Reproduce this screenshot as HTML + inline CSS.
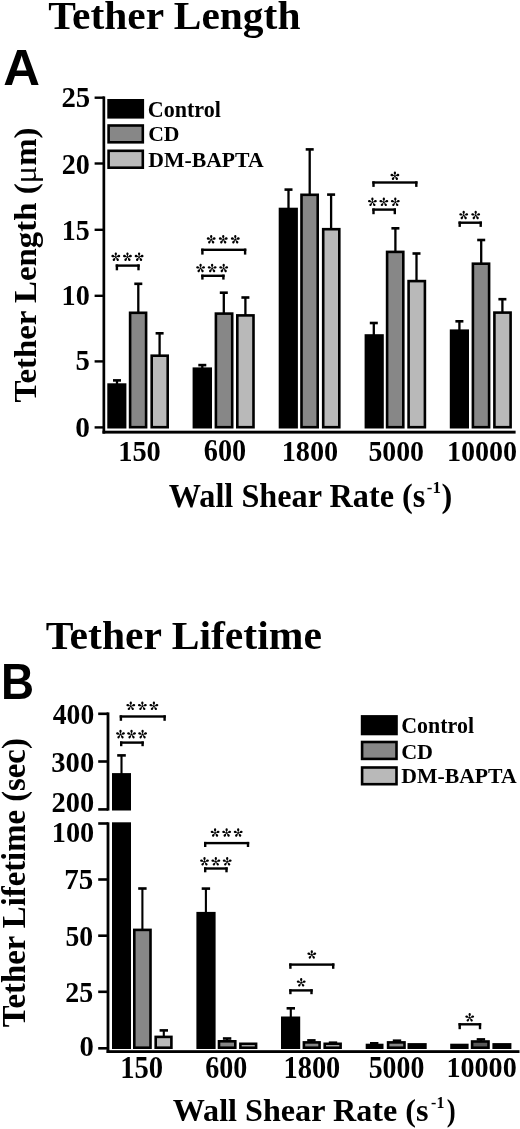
<!DOCTYPE html>
<html><head><meta charset="utf-8"><title>Tether Length and Tether Lifetime</title>
<style>html,body{margin:0;padding:0;background:#fff;overflow:hidden;}svg{display:block;will-change:transform;}</style></head>
<body><svg width="520" height="1129" viewBox="0 0 520 1129">
<rect width="520" height="1129" fill="#fff"/>
<g transform="matrix(1.0372,0.0000,0.0000,0.9784,48.1628,28.8946)"><text x="0" y="0" font-family="&quot;Liberation Serif&quot;, serif" font-size="40" font-weight="bold">Tether Length</text></g>
<g transform="matrix(1.0594,0.0000,0.0000,1.0333,3.2406,85.0000)"><text x="0" y="0" font-family="&quot;Liberation Sans&quot;, sans-serif" font-size="48" font-weight="bold">A</text></g>
<g transform="matrix(0.0000,-1.0271,1.0138,0.0000,36.4034,402.4271)"><text x="0" y="0" font-family="&quot;Liberation Serif&quot;, serif" font-size="32" font-weight="bold">Tether Length (<tspan font-weight="normal">μ</tspan>m)</text></g>
<g transform="matrix(1.0271,0.0000,0.0000,1.0467,147.7729,116.5000)"><text x="0" y="0" font-family="&quot;Liberation Serif&quot;, serif" font-size="21.5" font-weight="bold">Control</text></g>
<g transform="matrix(1.0103,0.0000,0.0000,1.0214,148.1897,141.2000)"><text x="0" y="0" font-family="&quot;Liberation Serif&quot;, serif" font-size="21.5" font-weight="bold">CD</text></g>
<g transform="matrix(1.0115,0.0000,0.0000,1.0071,148.1885,166.5000)"><text x="0" y="0" font-family="&quot;Liberation Serif&quot;, serif" font-size="21.5" font-weight="bold">DM-BAPTA</text></g>
<g transform="matrix(1.0087,0.0000,0.0000,1.0679,168.8000,506.8929)"><text x="0" y="0" font-family="&quot;Liberation Serif&quot;, serif" font-size="32" font-weight="bold">Wall Shear Rate (s</text></g>
<g transform="matrix(0.9385,0.0000,0.0000,0.9615,426.8615,492.9000)"><text x="0" y="0" font-family="&quot;Liberation Serif&quot;, serif" font-size="18" font-weight="bold">-1</text></g>
<g transform="matrix(1.0125,0.0000,0.0000,1.0536,441.4875,506.9786)"><text x="0" y="0" font-family="&quot;Liberation Serif&quot;, serif" font-size="32" font-weight="bold">)</text></g>
<g transform="matrix(1.0269,0.0000,0.0000,1.0722,61.4731,106.8000)"><text x="0" y="0" font-family="&quot;Liberation Serif&quot;, serif" font-size="28" font-weight="bold">25</text></g>
<g transform="matrix(1.0038,0.0000,0.0000,1.0389,61.6962,173.5000)"><text x="0" y="0" font-family="&quot;Liberation Serif&quot;, serif" font-size="28" font-weight="bold">20</text></g>
<g transform="matrix(1.0000,0.0000,0.0000,1.0667,61.8000,240.0000)"><text x="0" y="0" font-family="&quot;Liberation Serif&quot;, serif" font-size="28" font-weight="bold">15</text></g>
<g transform="matrix(1.0080,0.0000,0.0000,1.0833,61.5840,305.0000)"><text x="0" y="0" font-family="&quot;Liberation Serif&quot;, serif" font-size="28" font-weight="bold">10</text></g>
<g transform="matrix(1.0250,0.0000,0.0000,1.0333,75.4750,370.4000)"><text x="0" y="0" font-family="&quot;Liberation Serif&quot;, serif" font-size="28" font-weight="bold">5</text></g>
<g transform="matrix(1.0500,0.0000,0.0000,1.0889,75.1500,436.5000)"><text x="0" y="0" font-family="&quot;Liberation Serif&quot;, serif" font-size="28" font-weight="bold">0</text></g>
<g transform="matrix(1.0154,0.0000,0.0000,1.0722,118.1692,460.6000)"><text x="0" y="0" font-family="&quot;Liberation Serif&quot;, serif" font-size="28" font-weight="bold">150</text></g>
<g transform="matrix(1.0100,0.0000,0.0000,1.1000,203.7900,460.6000)"><text x="0" y="0" font-family="&quot;Liberation Serif&quot;, serif" font-size="28" font-weight="bold">600</text></g>
<g transform="matrix(1.0094,0.0000,0.0000,1.0833,281.6811,460.6000)"><text x="0" y="0" font-family="&quot;Liberation Serif&quot;, serif" font-size="28" font-weight="bold">1800</text></g>
<g transform="matrix(0.9926,0.0000,0.0000,1.0833,368.4074,460.6000)"><text x="0" y="0" font-family="&quot;Liberation Serif&quot;, serif" font-size="28" font-weight="bold">5000</text></g>
<g transform="matrix(1.0045,0.0000,0.0000,1.0778,446.8910,460.5000)"><text x="0" y="0" font-family="&quot;Liberation Serif&quot;, serif" font-size="28" font-weight="bold">10000</text></g>
<rect x="102.50" y="96.40" width="2.70" height="337.20" fill="#000"/>
<rect x="102.50" y="430.70" width="413.10" height="2.90" fill="#000"/>
<rect x="94.60" y="96.50" width="9.40" height="2.40" fill="#000"/>
<rect x="94.60" y="162.30" width="9.40" height="2.40" fill="#000"/>
<rect x="94.60" y="228.60" width="9.40" height="2.40" fill="#000"/>
<rect x="94.60" y="294.60" width="9.40" height="2.40" fill="#000"/>
<rect x="94.60" y="360.20" width="9.40" height="2.40" fill="#000"/>
<rect x="94.60" y="426.20" width="9.40" height="2.40" fill="#000"/>
<rect x="115.85" y="380.40" width="2.30" height="3.90" fill="#000"/>
<rect x="113.00" y="379.10" width="8.00" height="2.60" fill="#000"/>
<rect x="108.60" y="384.60" width="16.50" height="42.60" fill="#000" stroke="#000" stroke-width="2.6"/>
<rect x="137.15" y="283.80" width="2.30" height="28.70" fill="#000"/>
<rect x="134.30" y="282.50" width="8.00" height="2.60" fill="#000"/>
<rect x="130.10" y="312.80" width="16.00" height="114.40" fill="#878787" stroke="#000" stroke-width="2.6"/>
<rect x="158.45" y="333.30" width="2.30" height="22.10" fill="#000"/>
<rect x="155.60" y="332.00" width="8.00" height="2.60" fill="#000"/>
<rect x="151.70" y="355.70" width="16.00" height="71.50" fill="#b9b9b9" stroke="#000" stroke-width="2.6"/>
<rect x="201.15" y="365.10" width="2.30" height="3.30" fill="#000"/>
<rect x="198.30" y="363.80" width="8.00" height="2.60" fill="#000"/>
<rect x="193.90" y="368.70" width="16.80" height="58.50" fill="#000" stroke="#000" stroke-width="2.6"/>
<rect x="222.65" y="292.70" width="2.30" height="20.60" fill="#000"/>
<rect x="219.80" y="291.40" width="8.00" height="2.60" fill="#000"/>
<rect x="215.90" y="313.60" width="16.30" height="113.60" fill="#878787" stroke="#000" stroke-width="2.6"/>
<rect x="244.25" y="297.50" width="2.30" height="17.60" fill="#000"/>
<rect x="241.40" y="296.20" width="8.00" height="2.60" fill="#000"/>
<rect x="237.30" y="315.40" width="16.20" height="111.80" fill="#b9b9b9" stroke="#000" stroke-width="2.6"/>
<rect x="287.35" y="189.60" width="2.30" height="19.10" fill="#000"/>
<rect x="284.50" y="188.30" width="8.00" height="2.60" fill="#000"/>
<rect x="280.00" y="209.00" width="16.60" height="218.20" fill="#000" stroke="#000" stroke-width="2.6"/>
<rect x="308.55" y="149.40" width="2.30" height="45.10" fill="#000"/>
<rect x="305.70" y="148.10" width="8.00" height="2.60" fill="#000"/>
<rect x="301.50" y="194.80" width="16.20" height="232.40" fill="#878787" stroke="#000" stroke-width="2.6"/>
<rect x="329.95" y="194.60" width="2.30" height="34.30" fill="#000"/>
<rect x="327.10" y="193.30" width="8.00" height="2.60" fill="#000"/>
<rect x="323.20" y="229.20" width="16.10" height="198.00" fill="#b9b9b9" stroke="#000" stroke-width="2.6"/>
<rect x="372.65" y="323.00" width="2.30" height="12.20" fill="#000"/>
<rect x="369.80" y="321.70" width="8.00" height="2.60" fill="#000"/>
<rect x="365.90" y="335.50" width="16.60" height="91.70" fill="#000" stroke="#000" stroke-width="2.6"/>
<rect x="394.25" y="228.30" width="2.30" height="23.30" fill="#000"/>
<rect x="391.40" y="227.00" width="8.00" height="2.60" fill="#000"/>
<rect x="387.10" y="251.90" width="16.20" height="175.30" fill="#878787" stroke="#000" stroke-width="2.6"/>
<rect x="415.35" y="253.50" width="2.30" height="27.30" fill="#000"/>
<rect x="412.50" y="252.20" width="8.00" height="2.60" fill="#000"/>
<rect x="408.60" y="281.10" width="16.30" height="146.10" fill="#b9b9b9" stroke="#000" stroke-width="2.6"/>
<rect x="458.25" y="321.30" width="2.30" height="9.10" fill="#000"/>
<rect x="455.40" y="320.00" width="8.00" height="2.60" fill="#000"/>
<rect x="451.10" y="330.70" width="16.60" height="96.50" fill="#000" stroke="#000" stroke-width="2.6"/>
<rect x="480.05" y="240.00" width="2.30" height="23.40" fill="#000"/>
<rect x="477.20" y="238.70" width="8.00" height="2.60" fill="#000"/>
<rect x="472.90" y="263.70" width="16.20" height="163.50" fill="#878787" stroke="#000" stroke-width="2.6"/>
<rect x="501.25" y="299.20" width="2.30" height="13.10" fill="#000"/>
<rect x="498.40" y="297.90" width="8.00" height="2.60" fill="#000"/>
<rect x="494.40" y="312.60" width="16.20" height="114.60" fill="#b9b9b9" stroke="#000" stroke-width="2.6"/>
<rect x="115.70" y="264.40" width="24.00" height="2.40" fill="#000"/>
<rect x="115.70" y="264.40" width="2.40" height="5.90" fill="#000"/>
<rect x="137.30" y="264.40" width="2.40" height="5.90" fill="#000"/>
<g transform="translate(115.80,257.05)" fill="#000"><g transform="rotate(0)"><path d="M0,0 L-0.5,-1.6 C-1.45,-2.5 -1.4,-4.60 0,-4.60 C1.4,-4.60 1.45,-2.5 0.5,-1.6 Z"/></g><g transform="rotate(72)"><path d="M0,0 L-0.5,-1.6 C-1.45,-2.5 -1.4,-4.60 0,-4.60 C1.4,-4.60 1.45,-2.5 0.5,-1.6 Z"/></g><g transform="rotate(144)"><path d="M0,0 L-0.5,-1.6 C-1.45,-2.5 -1.4,-4.60 0,-4.60 C1.4,-4.60 1.45,-2.5 0.5,-1.6 Z"/></g><g transform="rotate(216)"><path d="M0,0 L-0.5,-1.6 C-1.45,-2.5 -1.4,-4.60 0,-4.60 C1.4,-4.60 1.45,-2.5 0.5,-1.6 Z"/></g><g transform="rotate(288)"><path d="M0,0 L-0.5,-1.6 C-1.45,-2.5 -1.4,-4.60 0,-4.60 C1.4,-4.60 1.45,-2.5 0.5,-1.6 Z"/></g><circle r="0.9"/></g>
<g transform="translate(127.45,257.05)" fill="#000"><g transform="rotate(0)"><path d="M0,0 L-0.5,-1.6 C-1.45,-2.5 -1.4,-4.60 0,-4.60 C1.4,-4.60 1.45,-2.5 0.5,-1.6 Z"/></g><g transform="rotate(72)"><path d="M0,0 L-0.5,-1.6 C-1.45,-2.5 -1.4,-4.60 0,-4.60 C1.4,-4.60 1.45,-2.5 0.5,-1.6 Z"/></g><g transform="rotate(144)"><path d="M0,0 L-0.5,-1.6 C-1.45,-2.5 -1.4,-4.60 0,-4.60 C1.4,-4.60 1.45,-2.5 0.5,-1.6 Z"/></g><g transform="rotate(216)"><path d="M0,0 L-0.5,-1.6 C-1.45,-2.5 -1.4,-4.60 0,-4.60 C1.4,-4.60 1.45,-2.5 0.5,-1.6 Z"/></g><g transform="rotate(288)"><path d="M0,0 L-0.5,-1.6 C-1.45,-2.5 -1.4,-4.60 0,-4.60 C1.4,-4.60 1.45,-2.5 0.5,-1.6 Z"/></g><circle r="0.9"/></g>
<g transform="translate(139.10,257.05)" fill="#000"><g transform="rotate(0)"><path d="M0,0 L-0.5,-1.6 C-1.45,-2.5 -1.4,-4.60 0,-4.60 C1.4,-4.60 1.45,-2.5 0.5,-1.6 Z"/></g><g transform="rotate(72)"><path d="M0,0 L-0.5,-1.6 C-1.45,-2.5 -1.4,-4.60 0,-4.60 C1.4,-4.60 1.45,-2.5 0.5,-1.6 Z"/></g><g transform="rotate(144)"><path d="M0,0 L-0.5,-1.6 C-1.45,-2.5 -1.4,-4.60 0,-4.60 C1.4,-4.60 1.45,-2.5 0.5,-1.6 Z"/></g><g transform="rotate(216)"><path d="M0,0 L-0.5,-1.6 C-1.45,-2.5 -1.4,-4.60 0,-4.60 C1.4,-4.60 1.45,-2.5 0.5,-1.6 Z"/></g><g transform="rotate(288)"><path d="M0,0 L-0.5,-1.6 C-1.45,-2.5 -1.4,-4.60 0,-4.60 C1.4,-4.60 1.45,-2.5 0.5,-1.6 Z"/></g><circle r="0.9"/></g>
<rect x="201.20" y="248.60" width="45.10" height="2.40" fill="#000"/>
<rect x="201.20" y="248.60" width="2.40" height="6.00" fill="#000"/>
<rect x="243.90" y="248.60" width="2.40" height="6.00" fill="#000"/>
<g transform="translate(211.20,239.55)" fill="#000"><g transform="rotate(0)"><path d="M0,0 L-0.5,-1.6 C-1.45,-2.5 -1.4,-4.60 0,-4.60 C1.4,-4.60 1.45,-2.5 0.5,-1.6 Z"/></g><g transform="rotate(72)"><path d="M0,0 L-0.5,-1.6 C-1.45,-2.5 -1.4,-4.60 0,-4.60 C1.4,-4.60 1.45,-2.5 0.5,-1.6 Z"/></g><g transform="rotate(144)"><path d="M0,0 L-0.5,-1.6 C-1.45,-2.5 -1.4,-4.60 0,-4.60 C1.4,-4.60 1.45,-2.5 0.5,-1.6 Z"/></g><g transform="rotate(216)"><path d="M0,0 L-0.5,-1.6 C-1.45,-2.5 -1.4,-4.60 0,-4.60 C1.4,-4.60 1.45,-2.5 0.5,-1.6 Z"/></g><g transform="rotate(288)"><path d="M0,0 L-0.5,-1.6 C-1.45,-2.5 -1.4,-4.60 0,-4.60 C1.4,-4.60 1.45,-2.5 0.5,-1.6 Z"/></g><circle r="0.9"/></g>
<g transform="translate(223.25,239.55)" fill="#000"><g transform="rotate(0)"><path d="M0,0 L-0.5,-1.6 C-1.45,-2.5 -1.4,-4.60 0,-4.60 C1.4,-4.60 1.45,-2.5 0.5,-1.6 Z"/></g><g transform="rotate(72)"><path d="M0,0 L-0.5,-1.6 C-1.45,-2.5 -1.4,-4.60 0,-4.60 C1.4,-4.60 1.45,-2.5 0.5,-1.6 Z"/></g><g transform="rotate(144)"><path d="M0,0 L-0.5,-1.6 C-1.45,-2.5 -1.4,-4.60 0,-4.60 C1.4,-4.60 1.45,-2.5 0.5,-1.6 Z"/></g><g transform="rotate(216)"><path d="M0,0 L-0.5,-1.6 C-1.45,-2.5 -1.4,-4.60 0,-4.60 C1.4,-4.60 1.45,-2.5 0.5,-1.6 Z"/></g><g transform="rotate(288)"><path d="M0,0 L-0.5,-1.6 C-1.45,-2.5 -1.4,-4.60 0,-4.60 C1.4,-4.60 1.45,-2.5 0.5,-1.6 Z"/></g><circle r="0.9"/></g>
<g transform="translate(235.30,239.55)" fill="#000"><g transform="rotate(0)"><path d="M0,0 L-0.5,-1.6 C-1.45,-2.5 -1.4,-4.60 0,-4.60 C1.4,-4.60 1.45,-2.5 0.5,-1.6 Z"/></g><g transform="rotate(72)"><path d="M0,0 L-0.5,-1.6 C-1.45,-2.5 -1.4,-4.60 0,-4.60 C1.4,-4.60 1.45,-2.5 0.5,-1.6 Z"/></g><g transform="rotate(144)"><path d="M0,0 L-0.5,-1.6 C-1.45,-2.5 -1.4,-4.60 0,-4.60 C1.4,-4.60 1.45,-2.5 0.5,-1.6 Z"/></g><g transform="rotate(216)"><path d="M0,0 L-0.5,-1.6 C-1.45,-2.5 -1.4,-4.60 0,-4.60 C1.4,-4.60 1.45,-2.5 0.5,-1.6 Z"/></g><g transform="rotate(288)"><path d="M0,0 L-0.5,-1.6 C-1.45,-2.5 -1.4,-4.60 0,-4.60 C1.4,-4.60 1.45,-2.5 0.5,-1.6 Z"/></g><circle r="0.9"/></g>
<rect x="201.20" y="274.60" width="23.40" height="2.40" fill="#000"/>
<rect x="201.20" y="274.60" width="2.40" height="5.00" fill="#000"/>
<rect x="222.20" y="274.60" width="2.40" height="5.00" fill="#000"/>
<g transform="translate(200.60,268.35)" fill="#000"><g transform="rotate(0)"><path d="M0,0 L-0.5,-1.6 C-1.45,-2.5 -1.4,-4.60 0,-4.60 C1.4,-4.60 1.45,-2.5 0.5,-1.6 Z"/></g><g transform="rotate(72)"><path d="M0,0 L-0.5,-1.6 C-1.45,-2.5 -1.4,-4.60 0,-4.60 C1.4,-4.60 1.45,-2.5 0.5,-1.6 Z"/></g><g transform="rotate(144)"><path d="M0,0 L-0.5,-1.6 C-1.45,-2.5 -1.4,-4.60 0,-4.60 C1.4,-4.60 1.45,-2.5 0.5,-1.6 Z"/></g><g transform="rotate(216)"><path d="M0,0 L-0.5,-1.6 C-1.45,-2.5 -1.4,-4.60 0,-4.60 C1.4,-4.60 1.45,-2.5 0.5,-1.6 Z"/></g><g transform="rotate(288)"><path d="M0,0 L-0.5,-1.6 C-1.45,-2.5 -1.4,-4.60 0,-4.60 C1.4,-4.60 1.45,-2.5 0.5,-1.6 Z"/></g><circle r="0.9"/></g>
<g transform="translate(212.15,268.35)" fill="#000"><g transform="rotate(0)"><path d="M0,0 L-0.5,-1.6 C-1.45,-2.5 -1.4,-4.60 0,-4.60 C1.4,-4.60 1.45,-2.5 0.5,-1.6 Z"/></g><g transform="rotate(72)"><path d="M0,0 L-0.5,-1.6 C-1.45,-2.5 -1.4,-4.60 0,-4.60 C1.4,-4.60 1.45,-2.5 0.5,-1.6 Z"/></g><g transform="rotate(144)"><path d="M0,0 L-0.5,-1.6 C-1.45,-2.5 -1.4,-4.60 0,-4.60 C1.4,-4.60 1.45,-2.5 0.5,-1.6 Z"/></g><g transform="rotate(216)"><path d="M0,0 L-0.5,-1.6 C-1.45,-2.5 -1.4,-4.60 0,-4.60 C1.4,-4.60 1.45,-2.5 0.5,-1.6 Z"/></g><g transform="rotate(288)"><path d="M0,0 L-0.5,-1.6 C-1.45,-2.5 -1.4,-4.60 0,-4.60 C1.4,-4.60 1.45,-2.5 0.5,-1.6 Z"/></g><circle r="0.9"/></g>
<g transform="translate(223.70,268.35)" fill="#000"><g transform="rotate(0)"><path d="M0,0 L-0.5,-1.6 C-1.45,-2.5 -1.4,-4.60 0,-4.60 C1.4,-4.60 1.45,-2.5 0.5,-1.6 Z"/></g><g transform="rotate(72)"><path d="M0,0 L-0.5,-1.6 C-1.45,-2.5 -1.4,-4.60 0,-4.60 C1.4,-4.60 1.45,-2.5 0.5,-1.6 Z"/></g><g transform="rotate(144)"><path d="M0,0 L-0.5,-1.6 C-1.45,-2.5 -1.4,-4.60 0,-4.60 C1.4,-4.60 1.45,-2.5 0.5,-1.6 Z"/></g><g transform="rotate(216)"><path d="M0,0 L-0.5,-1.6 C-1.45,-2.5 -1.4,-4.60 0,-4.60 C1.4,-4.60 1.45,-2.5 0.5,-1.6 Z"/></g><g transform="rotate(288)"><path d="M0,0 L-0.5,-1.6 C-1.45,-2.5 -1.4,-4.60 0,-4.60 C1.4,-4.60 1.45,-2.5 0.5,-1.6 Z"/></g><circle r="0.9"/></g>
<rect x="372.30" y="181.30" width="45.20" height="2.40" fill="#000"/>
<rect x="372.30" y="181.30" width="2.40" height="5.60" fill="#000"/>
<rect x="415.10" y="181.30" width="2.40" height="5.60" fill="#000"/>
<g transform="translate(394.90,176.05)" fill="#000"><g transform="rotate(0)"><path d="M0,0 L-0.5,-1.6 C-1.45,-2.5 -1.4,-4.60 0,-4.60 C1.4,-4.60 1.45,-2.5 0.5,-1.6 Z"/></g><g transform="rotate(72)"><path d="M0,0 L-0.5,-1.6 C-1.45,-2.5 -1.4,-4.60 0,-4.60 C1.4,-4.60 1.45,-2.5 0.5,-1.6 Z"/></g><g transform="rotate(144)"><path d="M0,0 L-0.5,-1.6 C-1.45,-2.5 -1.4,-4.60 0,-4.60 C1.4,-4.60 1.45,-2.5 0.5,-1.6 Z"/></g><g transform="rotate(216)"><path d="M0,0 L-0.5,-1.6 C-1.45,-2.5 -1.4,-4.60 0,-4.60 C1.4,-4.60 1.45,-2.5 0.5,-1.6 Z"/></g><g transform="rotate(288)"><path d="M0,0 L-0.5,-1.6 C-1.45,-2.5 -1.4,-4.60 0,-4.60 C1.4,-4.60 1.45,-2.5 0.5,-1.6 Z"/></g><circle r="0.9"/></g>
<rect x="372.30" y="208.40" width="23.70" height="2.40" fill="#000"/>
<rect x="372.30" y="208.40" width="2.40" height="5.80" fill="#000"/>
<rect x="393.60" y="208.40" width="2.40" height="5.80" fill="#000"/>
<g transform="translate(372.40,202.15)" fill="#000"><g transform="rotate(0)"><path d="M0,0 L-0.5,-1.6 C-1.45,-2.5 -1.4,-4.60 0,-4.60 C1.4,-4.60 1.45,-2.5 0.5,-1.6 Z"/></g><g transform="rotate(72)"><path d="M0,0 L-0.5,-1.6 C-1.45,-2.5 -1.4,-4.60 0,-4.60 C1.4,-4.60 1.45,-2.5 0.5,-1.6 Z"/></g><g transform="rotate(144)"><path d="M0,0 L-0.5,-1.6 C-1.45,-2.5 -1.4,-4.60 0,-4.60 C1.4,-4.60 1.45,-2.5 0.5,-1.6 Z"/></g><g transform="rotate(216)"><path d="M0,0 L-0.5,-1.6 C-1.45,-2.5 -1.4,-4.60 0,-4.60 C1.4,-4.60 1.45,-2.5 0.5,-1.6 Z"/></g><g transform="rotate(288)"><path d="M0,0 L-0.5,-1.6 C-1.45,-2.5 -1.4,-4.60 0,-4.60 C1.4,-4.60 1.45,-2.5 0.5,-1.6 Z"/></g><circle r="0.9"/></g>
<g transform="translate(383.85,202.15)" fill="#000"><g transform="rotate(0)"><path d="M0,0 L-0.5,-1.6 C-1.45,-2.5 -1.4,-4.60 0,-4.60 C1.4,-4.60 1.45,-2.5 0.5,-1.6 Z"/></g><g transform="rotate(72)"><path d="M0,0 L-0.5,-1.6 C-1.45,-2.5 -1.4,-4.60 0,-4.60 C1.4,-4.60 1.45,-2.5 0.5,-1.6 Z"/></g><g transform="rotate(144)"><path d="M0,0 L-0.5,-1.6 C-1.45,-2.5 -1.4,-4.60 0,-4.60 C1.4,-4.60 1.45,-2.5 0.5,-1.6 Z"/></g><g transform="rotate(216)"><path d="M0,0 L-0.5,-1.6 C-1.45,-2.5 -1.4,-4.60 0,-4.60 C1.4,-4.60 1.45,-2.5 0.5,-1.6 Z"/></g><g transform="rotate(288)"><path d="M0,0 L-0.5,-1.6 C-1.45,-2.5 -1.4,-4.60 0,-4.60 C1.4,-4.60 1.45,-2.5 0.5,-1.6 Z"/></g><circle r="0.9"/></g>
<g transform="translate(395.30,202.15)" fill="#000"><g transform="rotate(0)"><path d="M0,0 L-0.5,-1.6 C-1.45,-2.5 -1.4,-4.60 0,-4.60 C1.4,-4.60 1.45,-2.5 0.5,-1.6 Z"/></g><g transform="rotate(72)"><path d="M0,0 L-0.5,-1.6 C-1.45,-2.5 -1.4,-4.60 0,-4.60 C1.4,-4.60 1.45,-2.5 0.5,-1.6 Z"/></g><g transform="rotate(144)"><path d="M0,0 L-0.5,-1.6 C-1.45,-2.5 -1.4,-4.60 0,-4.60 C1.4,-4.60 1.45,-2.5 0.5,-1.6 Z"/></g><g transform="rotate(216)"><path d="M0,0 L-0.5,-1.6 C-1.45,-2.5 -1.4,-4.60 0,-4.60 C1.4,-4.60 1.45,-2.5 0.5,-1.6 Z"/></g><g transform="rotate(288)"><path d="M0,0 L-0.5,-1.6 C-1.45,-2.5 -1.4,-4.60 0,-4.60 C1.4,-4.60 1.45,-2.5 0.5,-1.6 Z"/></g><circle r="0.9"/></g>
<rect x="458.50" y="221.50" width="23.40" height="2.40" fill="#000"/>
<rect x="458.50" y="221.50" width="2.40" height="5.40" fill="#000"/>
<rect x="479.50" y="221.50" width="2.40" height="5.40" fill="#000"/>
<g transform="translate(463.70,215.35)" fill="#000"><g transform="rotate(0)"><path d="M0,0 L-0.5,-1.6 C-1.45,-2.5 -1.4,-4.60 0,-4.60 C1.4,-4.60 1.45,-2.5 0.5,-1.6 Z"/></g><g transform="rotate(72)"><path d="M0,0 L-0.5,-1.6 C-1.45,-2.5 -1.4,-4.60 0,-4.60 C1.4,-4.60 1.45,-2.5 0.5,-1.6 Z"/></g><g transform="rotate(144)"><path d="M0,0 L-0.5,-1.6 C-1.45,-2.5 -1.4,-4.60 0,-4.60 C1.4,-4.60 1.45,-2.5 0.5,-1.6 Z"/></g><g transform="rotate(216)"><path d="M0,0 L-0.5,-1.6 C-1.45,-2.5 -1.4,-4.60 0,-4.60 C1.4,-4.60 1.45,-2.5 0.5,-1.6 Z"/></g><g transform="rotate(288)"><path d="M0,0 L-0.5,-1.6 C-1.45,-2.5 -1.4,-4.60 0,-4.60 C1.4,-4.60 1.45,-2.5 0.5,-1.6 Z"/></g><circle r="0.9"/></g>
<g transform="translate(475.70,215.35)" fill="#000"><g transform="rotate(0)"><path d="M0,0 L-0.5,-1.6 C-1.45,-2.5 -1.4,-4.60 0,-4.60 C1.4,-4.60 1.45,-2.5 0.5,-1.6 Z"/></g><g transform="rotate(72)"><path d="M0,0 L-0.5,-1.6 C-1.45,-2.5 -1.4,-4.60 0,-4.60 C1.4,-4.60 1.45,-2.5 0.5,-1.6 Z"/></g><g transform="rotate(144)"><path d="M0,0 L-0.5,-1.6 C-1.45,-2.5 -1.4,-4.60 0,-4.60 C1.4,-4.60 1.45,-2.5 0.5,-1.6 Z"/></g><g transform="rotate(216)"><path d="M0,0 L-0.5,-1.6 C-1.45,-2.5 -1.4,-4.60 0,-4.60 C1.4,-4.60 1.45,-2.5 0.5,-1.6 Z"/></g><g transform="rotate(288)"><path d="M0,0 L-0.5,-1.6 C-1.45,-2.5 -1.4,-4.60 0,-4.60 C1.4,-4.60 1.45,-2.5 0.5,-1.6 Z"/></g><circle r="0.9"/></g>
<rect x="108.60" y="100.30" width="34.20" height="17.00" fill="#000" stroke="#000" stroke-width="2.6"/>
<rect x="108.60" y="125.50" width="34.20" height="16.80" fill="#878787" stroke="#000" stroke-width="2.6"/>
<rect x="108.60" y="150.80" width="34.20" height="16.90" fill="#b9b9b9" stroke="#000" stroke-width="2.6"/>
<g transform="matrix(1.0409,0.0000,0.0000,1.0179,45.6591,648.6000)"><text x="0" y="0" font-family="&quot;Liberation Serif&quot;, serif" font-size="40" font-weight="bold">Tether Lifetime</text></g>
<g transform="matrix(0.9533,0.0000,0.0000,1.0455,1.0400,698.7000)"><text x="0" y="0" font-family="&quot;Liberation Sans&quot;, sans-serif" font-size="48" font-weight="bold">B</text></g>
<g transform="matrix(0.0000,-1.0236,1.0357,0.0000,25.4857,1027.3236)"><text x="0" y="0" font-family="&quot;Liberation Serif&quot;, serif" font-size="32" font-weight="bold">Tether Lifetime (sec)</text></g>
<g transform="matrix(1.0200,0.0000,0.0000,1.0267,401.2800,733.2000)"><text x="0" y="0" font-family="&quot;Liberation Serif&quot;, serif" font-size="21.5" font-weight="bold">Control</text></g>
<g transform="matrix(1.0276,0.0000,0.0000,1.0000,401.1724,758.6000)"><text x="0" y="0" font-family="&quot;Liberation Serif&quot;, serif" font-size="21.5" font-weight="bold">CD</text></g>
<g transform="matrix(1.0115,0.0000,0.0000,0.9714,401.1885,783.3000)"><text x="0" y="0" font-family="&quot;Liberation Serif&quot;, serif" font-size="21.5" font-weight="bold">DM-BAPTA</text></g>
<g transform="matrix(1.0051,0.0000,0.0000,1.0071,172.7000,1120.6571)"><text x="0" y="0" font-family="&quot;Liberation Serif&quot;, serif" font-size="32" font-weight="bold">Wall Shear Rate (s</text></g>
<g transform="matrix(0.8846,0.0000,0.0000,0.8846,431.1154,1107.9000)"><text x="0" y="0" font-family="&quot;Liberation Serif&quot;, serif" font-size="18" font-weight="bold">-1</text></g>
<g transform="matrix(0.8375,0.0000,0.0000,0.9857,446.6625,1120.7857)"><text x="0" y="0" font-family="&quot;Liberation Serif&quot;, serif" font-size="32" font-weight="bold">)</text></g>
<g transform="matrix(0.9854,0.0000,0.0000,1.0556,52.8000,723.8000)"><text x="0" y="0" font-family="&quot;Liberation Serif&quot;, serif" font-size="28" font-weight="bold">400</text></g>
<g transform="matrix(1.0225,0.0000,0.0000,1.0722,51.2775,771.6000)"><text x="0" y="0" font-family="&quot;Liberation Serif&quot;, serif" font-size="28" font-weight="bold">300</text></g>
<g transform="matrix(1.0150,0.0000,0.0000,1.0722,51.5850,811.6000)"><text x="0" y="0" font-family="&quot;Liberation Serif&quot;, serif" font-size="28" font-weight="bold">200</text></g>
<g transform="matrix(1.0103,0.0000,0.0000,1.0722,51.7795,841.6000)"><text x="0" y="0" font-family="&quot;Liberation Serif&quot;, serif" font-size="28" font-weight="bold">100</text></g>
<g transform="matrix(1.0360,0.0000,0.0000,1.0278,64.2280,888.5000)"><text x="0" y="0" font-family="&quot;Liberation Serif&quot;, serif" font-size="28" font-weight="bold">75</text></g>
<g transform="matrix(0.9885,0.0000,0.0000,1.0722,65.5115,945.5000)"><text x="0" y="0" font-family="&quot;Liberation Serif&quot;, serif" font-size="28" font-weight="bold">50</text></g>
<g transform="matrix(0.9962,0.0000,0.0000,1.0444,65.3038,1001.6000)"><text x="0" y="0" font-family="&quot;Liberation Serif&quot;, serif" font-size="28" font-weight="bold">25</text></g>
<g transform="matrix(1.0250,0.0000,0.0000,1.0611,79.5750,1055.8000)"><text x="0" y="0" font-family="&quot;Liberation Serif&quot;, serif" font-size="28" font-weight="bold">0</text></g>
<g transform="matrix(1.0231,0.0000,0.0000,1.0944,120.1538,1078.2000)"><text x="0" y="0" font-family="&quot;Liberation Serif&quot;, serif" font-size="28" font-weight="bold">150</text></g>
<g transform="matrix(1.0025,0.0000,0.0000,1.1111,205.2975,1077.8000)"><text x="0" y="0" font-family="&quot;Liberation Serif&quot;, serif" font-size="28" font-weight="bold">600</text></g>
<g transform="matrix(1.0151,0.0000,0.0000,1.1000,283.4698,1077.9000)"><text x="0" y="0" font-family="&quot;Liberation Serif&quot;, serif" font-size="28" font-weight="bold">1800</text></g>
<g transform="matrix(0.9926,0.0000,0.0000,1.1222,368.7074,1078.3000)"><text x="0" y="0" font-family="&quot;Liberation Serif&quot;, serif" font-size="28" font-weight="bold">5000</text></g>
<g transform="matrix(1.0030,0.0000,0.0000,1.0778,446.4940,1077.3000)"><text x="0" y="0" font-family="&quot;Liberation Serif&quot;, serif" font-size="28" font-weight="bold">10000</text></g>
<rect x="106.60" y="712.40" width="2.80" height="98.20" fill="#000"/>
<rect x="106.60" y="822.30" width="2.80" height="230.70" fill="#000"/>
<rect x="106.60" y="1050.20" width="412.90" height="2.80" fill="#000"/>
<rect x="98.20" y="712.50" width="9.80" height="2.60" fill="#000"/>
<rect x="98.20" y="760.20" width="9.80" height="2.60" fill="#000"/>
<rect x="98.20" y="808.10" width="9.80" height="2.60" fill="#000"/>
<rect x="98.20" y="822.20" width="9.80" height="2.60" fill="#000"/>
<rect x="98.20" y="878.20" width="9.80" height="2.60" fill="#000"/>
<rect x="98.20" y="934.40" width="9.80" height="2.60" fill="#000"/>
<rect x="98.20" y="990.50" width="9.80" height="2.60" fill="#000"/>
<rect x="98.20" y="1047.00" width="9.80" height="2.60" fill="#000"/>
<rect x="120.45" y="755.40" width="2.10" height="18.60" fill="#000"/>
<rect x="117.20" y="754.10" width="8.60" height="2.60" fill="#000"/>
<rect x="112.00" y="773.10" width="19.00" height="37.40" fill="#000"/>
<rect x="112.00" y="822.30" width="19.00" height="226.70" fill="#000"/>
<rect x="141.35" y="888.50" width="2.10" height="41.10" fill="#000"/>
<rect x="138.20" y="887.20" width="8.40" height="2.60" fill="#000"/>
<rect x="134.30" y="929.90" width="16.20" height="117.80" fill="#878787" stroke="#000" stroke-width="2.6"/>
<rect x="162.75" y="1030.40" width="2.10" height="6.20" fill="#000"/>
<rect x="159.60" y="1029.10" width="8.40" height="2.60" fill="#000"/>
<rect x="155.70" y="1036.90" width="15.70" height="10.80" fill="#b9b9b9" stroke="#000" stroke-width="2.6"/>
<rect x="204.85" y="888.60" width="2.10" height="24.30" fill="#000"/>
<rect x="201.70" y="887.30" width="8.40" height="2.60" fill="#000"/>
<rect x="197.70" y="913.20" width="16.60" height="134.50" fill="#000" stroke="#000" stroke-width="2.6"/>
<rect x="226.05" y="1038.50" width="2.10" height="2.50" fill="#000"/>
<rect x="222.90" y="1037.20" width="8.40" height="2.60" fill="#000"/>
<rect x="219.00" y="1041.30" width="16.30" height="6.40" fill="#878787" stroke="#000" stroke-width="2.6"/>
<rect x="240.40" y="1043.80" width="15.70" height="3.90" fill="#b9b9b9" stroke="#000" stroke-width="2.6"/>
<rect x="289.75" y="1008.30" width="2.10" height="9.20" fill="#000"/>
<rect x="286.60" y="1007.00" width="8.40" height="2.60" fill="#000"/>
<rect x="282.30" y="1017.80" width="16.60" height="29.90" fill="#000" stroke="#000" stroke-width="2.6"/>
<rect x="310.35" y="1040.40" width="2.10" height="1.70" fill="#000"/>
<rect x="307.20" y="1039.10" width="8.40" height="2.60" fill="#000"/>
<rect x="303.90" y="1042.40" width="15.70" height="5.30" fill="#878787" stroke="#000" stroke-width="2.6"/>
<rect x="331.95" y="1042.70" width="2.10" height="0.80" fill="#000"/>
<rect x="328.80" y="1041.40" width="8.40" height="2.60" fill="#000"/>
<rect x="324.70" y="1043.80" width="15.90" height="3.90" fill="#b9b9b9" stroke="#000" stroke-width="2.6"/>
<rect x="373.15" y="1043.30" width="2.10" height="1.40" fill="#000"/>
<rect x="370.00" y="1042.00" width="8.40" height="2.60" fill="#000"/>
<rect x="367.00" y="1045.00" width="15.20" height="2.70" fill="#000" stroke="#000" stroke-width="2.6"/>
<rect x="395.95" y="1040.70" width="2.10" height="1.40" fill="#000"/>
<rect x="392.80" y="1039.40" width="8.40" height="2.60" fill="#000"/>
<rect x="388.10" y="1042.40" width="16.40" height="5.30" fill="#878787" stroke="#000" stroke-width="2.6"/>
<rect x="408.80" y="1044.40" width="16.60" height="3.30" fill="#000" stroke="#000" stroke-width="2.6"/>
<rect x="451.50" y="1045.00" width="15.80" height="2.70" fill="#000" stroke="#000" stroke-width="2.6"/>
<rect x="479.85" y="1039.40" width="2.10" height="1.80" fill="#000"/>
<rect x="476.70" y="1038.10" width="8.40" height="2.60" fill="#000"/>
<rect x="472.10" y="1041.50" width="16.40" height="6.20" fill="#5a5a5a" stroke="#000" stroke-width="2.6"/>
<rect x="493.70" y="1044.40" width="16.40" height="3.30" fill="#000" stroke="#000" stroke-width="2.6"/>
<rect x="119.70" y="715.30" width="46.10" height="2.40" fill="#000"/>
<rect x="119.70" y="715.30" width="2.40" height="5.50" fill="#000"/>
<rect x="163.40" y="715.30" width="2.40" height="5.50" fill="#000"/>
<g transform="translate(130.80,706.15)" fill="#000"><g transform="rotate(0)"><path d="M0,0 L-0.5,-1.6 C-1.45,-2.5 -1.4,-4.60 0,-4.60 C1.4,-4.60 1.45,-2.5 0.5,-1.6 Z"/></g><g transform="rotate(72)"><path d="M0,0 L-0.5,-1.6 C-1.45,-2.5 -1.4,-4.60 0,-4.60 C1.4,-4.60 1.45,-2.5 0.5,-1.6 Z"/></g><g transform="rotate(144)"><path d="M0,0 L-0.5,-1.6 C-1.45,-2.5 -1.4,-4.60 0,-4.60 C1.4,-4.60 1.45,-2.5 0.5,-1.6 Z"/></g><g transform="rotate(216)"><path d="M0,0 L-0.5,-1.6 C-1.45,-2.5 -1.4,-4.60 0,-4.60 C1.4,-4.60 1.45,-2.5 0.5,-1.6 Z"/></g><g transform="rotate(288)"><path d="M0,0 L-0.5,-1.6 C-1.45,-2.5 -1.4,-4.60 0,-4.60 C1.4,-4.60 1.45,-2.5 0.5,-1.6 Z"/></g><circle r="0.9"/></g>
<g transform="translate(142.35,706.15)" fill="#000"><g transform="rotate(0)"><path d="M0,0 L-0.5,-1.6 C-1.45,-2.5 -1.4,-4.60 0,-4.60 C1.4,-4.60 1.45,-2.5 0.5,-1.6 Z"/></g><g transform="rotate(72)"><path d="M0,0 L-0.5,-1.6 C-1.45,-2.5 -1.4,-4.60 0,-4.60 C1.4,-4.60 1.45,-2.5 0.5,-1.6 Z"/></g><g transform="rotate(144)"><path d="M0,0 L-0.5,-1.6 C-1.45,-2.5 -1.4,-4.60 0,-4.60 C1.4,-4.60 1.45,-2.5 0.5,-1.6 Z"/></g><g transform="rotate(216)"><path d="M0,0 L-0.5,-1.6 C-1.45,-2.5 -1.4,-4.60 0,-4.60 C1.4,-4.60 1.45,-2.5 0.5,-1.6 Z"/></g><g transform="rotate(288)"><path d="M0,0 L-0.5,-1.6 C-1.45,-2.5 -1.4,-4.60 0,-4.60 C1.4,-4.60 1.45,-2.5 0.5,-1.6 Z"/></g><circle r="0.9"/></g>
<g transform="translate(153.90,706.15)" fill="#000"><g transform="rotate(0)"><path d="M0,0 L-0.5,-1.6 C-1.45,-2.5 -1.4,-4.60 0,-4.60 C1.4,-4.60 1.45,-2.5 0.5,-1.6 Z"/></g><g transform="rotate(72)"><path d="M0,0 L-0.5,-1.6 C-1.45,-2.5 -1.4,-4.60 0,-4.60 C1.4,-4.60 1.45,-2.5 0.5,-1.6 Z"/></g><g transform="rotate(144)"><path d="M0,0 L-0.5,-1.6 C-1.45,-2.5 -1.4,-4.60 0,-4.60 C1.4,-4.60 1.45,-2.5 0.5,-1.6 Z"/></g><g transform="rotate(216)"><path d="M0,0 L-0.5,-1.6 C-1.45,-2.5 -1.4,-4.60 0,-4.60 C1.4,-4.60 1.45,-2.5 0.5,-1.6 Z"/></g><g transform="rotate(288)"><path d="M0,0 L-0.5,-1.6 C-1.45,-2.5 -1.4,-4.60 0,-4.60 C1.4,-4.60 1.45,-2.5 0.5,-1.6 Z"/></g><circle r="0.9"/></g>
<rect x="120.00" y="741.40" width="23.80" height="2.40" fill="#000"/>
<rect x="120.00" y="741.40" width="2.40" height="4.80" fill="#000"/>
<rect x="141.40" y="741.40" width="2.40" height="4.80" fill="#000"/>
<g transform="translate(120.50,734.45)" fill="#000"><g transform="rotate(0)"><path d="M0,0 L-0.5,-1.6 C-1.45,-2.5 -1.4,-4.60 0,-4.60 C1.4,-4.60 1.45,-2.5 0.5,-1.6 Z"/></g><g transform="rotate(72)"><path d="M0,0 L-0.5,-1.6 C-1.45,-2.5 -1.4,-4.60 0,-4.60 C1.4,-4.60 1.45,-2.5 0.5,-1.6 Z"/></g><g transform="rotate(144)"><path d="M0,0 L-0.5,-1.6 C-1.45,-2.5 -1.4,-4.60 0,-4.60 C1.4,-4.60 1.45,-2.5 0.5,-1.6 Z"/></g><g transform="rotate(216)"><path d="M0,0 L-0.5,-1.6 C-1.45,-2.5 -1.4,-4.60 0,-4.60 C1.4,-4.60 1.45,-2.5 0.5,-1.6 Z"/></g><g transform="rotate(288)"><path d="M0,0 L-0.5,-1.6 C-1.45,-2.5 -1.4,-4.60 0,-4.60 C1.4,-4.60 1.45,-2.5 0.5,-1.6 Z"/></g><circle r="0.9"/></g>
<g transform="translate(131.55,734.45)" fill="#000"><g transform="rotate(0)"><path d="M0,0 L-0.5,-1.6 C-1.45,-2.5 -1.4,-4.60 0,-4.60 C1.4,-4.60 1.45,-2.5 0.5,-1.6 Z"/></g><g transform="rotate(72)"><path d="M0,0 L-0.5,-1.6 C-1.45,-2.5 -1.4,-4.60 0,-4.60 C1.4,-4.60 1.45,-2.5 0.5,-1.6 Z"/></g><g transform="rotate(144)"><path d="M0,0 L-0.5,-1.6 C-1.45,-2.5 -1.4,-4.60 0,-4.60 C1.4,-4.60 1.45,-2.5 0.5,-1.6 Z"/></g><g transform="rotate(216)"><path d="M0,0 L-0.5,-1.6 C-1.45,-2.5 -1.4,-4.60 0,-4.60 C1.4,-4.60 1.45,-2.5 0.5,-1.6 Z"/></g><g transform="rotate(288)"><path d="M0,0 L-0.5,-1.6 C-1.45,-2.5 -1.4,-4.60 0,-4.60 C1.4,-4.60 1.45,-2.5 0.5,-1.6 Z"/></g><circle r="0.9"/></g>
<g transform="translate(142.60,734.45)" fill="#000"><g transform="rotate(0)"><path d="M0,0 L-0.5,-1.6 C-1.45,-2.5 -1.4,-4.60 0,-4.60 C1.4,-4.60 1.45,-2.5 0.5,-1.6 Z"/></g><g transform="rotate(72)"><path d="M0,0 L-0.5,-1.6 C-1.45,-2.5 -1.4,-4.60 0,-4.60 C1.4,-4.60 1.45,-2.5 0.5,-1.6 Z"/></g><g transform="rotate(144)"><path d="M0,0 L-0.5,-1.6 C-1.45,-2.5 -1.4,-4.60 0,-4.60 C1.4,-4.60 1.45,-2.5 0.5,-1.6 Z"/></g><g transform="rotate(216)"><path d="M0,0 L-0.5,-1.6 C-1.45,-2.5 -1.4,-4.60 0,-4.60 C1.4,-4.60 1.45,-2.5 0.5,-1.6 Z"/></g><g transform="rotate(288)"><path d="M0,0 L-0.5,-1.6 C-1.45,-2.5 -1.4,-4.60 0,-4.60 C1.4,-4.60 1.45,-2.5 0.5,-1.6 Z"/></g><circle r="0.9"/></g>
<rect x="204.00" y="841.90" width="45.20" height="2.40" fill="#000"/>
<rect x="204.00" y="841.90" width="2.40" height="5.10" fill="#000"/>
<rect x="246.80" y="841.90" width="2.40" height="5.10" fill="#000"/>
<g transform="translate(215.10,832.85)" fill="#000"><g transform="rotate(0)"><path d="M0,0 L-0.5,-1.6 C-1.45,-2.5 -1.4,-4.60 0,-4.60 C1.4,-4.60 1.45,-2.5 0.5,-1.6 Z"/></g><g transform="rotate(72)"><path d="M0,0 L-0.5,-1.6 C-1.45,-2.5 -1.4,-4.60 0,-4.60 C1.4,-4.60 1.45,-2.5 0.5,-1.6 Z"/></g><g transform="rotate(144)"><path d="M0,0 L-0.5,-1.6 C-1.45,-2.5 -1.4,-4.60 0,-4.60 C1.4,-4.60 1.45,-2.5 0.5,-1.6 Z"/></g><g transform="rotate(216)"><path d="M0,0 L-0.5,-1.6 C-1.45,-2.5 -1.4,-4.60 0,-4.60 C1.4,-4.60 1.45,-2.5 0.5,-1.6 Z"/></g><g transform="rotate(288)"><path d="M0,0 L-0.5,-1.6 C-1.45,-2.5 -1.4,-4.60 0,-4.60 C1.4,-4.60 1.45,-2.5 0.5,-1.6 Z"/></g><circle r="0.9"/></g>
<g transform="translate(226.65,832.85)" fill="#000"><g transform="rotate(0)"><path d="M0,0 L-0.5,-1.6 C-1.45,-2.5 -1.4,-4.60 0,-4.60 C1.4,-4.60 1.45,-2.5 0.5,-1.6 Z"/></g><g transform="rotate(72)"><path d="M0,0 L-0.5,-1.6 C-1.45,-2.5 -1.4,-4.60 0,-4.60 C1.4,-4.60 1.45,-2.5 0.5,-1.6 Z"/></g><g transform="rotate(144)"><path d="M0,0 L-0.5,-1.6 C-1.45,-2.5 -1.4,-4.60 0,-4.60 C1.4,-4.60 1.45,-2.5 0.5,-1.6 Z"/></g><g transform="rotate(216)"><path d="M0,0 L-0.5,-1.6 C-1.45,-2.5 -1.4,-4.60 0,-4.60 C1.4,-4.60 1.45,-2.5 0.5,-1.6 Z"/></g><g transform="rotate(288)"><path d="M0,0 L-0.5,-1.6 C-1.45,-2.5 -1.4,-4.60 0,-4.60 C1.4,-4.60 1.45,-2.5 0.5,-1.6 Z"/></g><circle r="0.9"/></g>
<g transform="translate(238.20,832.85)" fill="#000"><g transform="rotate(0)"><path d="M0,0 L-0.5,-1.6 C-1.45,-2.5 -1.4,-4.60 0,-4.60 C1.4,-4.60 1.45,-2.5 0.5,-1.6 Z"/></g><g transform="rotate(72)"><path d="M0,0 L-0.5,-1.6 C-1.45,-2.5 -1.4,-4.60 0,-4.60 C1.4,-4.60 1.45,-2.5 0.5,-1.6 Z"/></g><g transform="rotate(144)"><path d="M0,0 L-0.5,-1.6 C-1.45,-2.5 -1.4,-4.60 0,-4.60 C1.4,-4.60 1.45,-2.5 0.5,-1.6 Z"/></g><g transform="rotate(216)"><path d="M0,0 L-0.5,-1.6 C-1.45,-2.5 -1.4,-4.60 0,-4.60 C1.4,-4.60 1.45,-2.5 0.5,-1.6 Z"/></g><g transform="rotate(288)"><path d="M0,0 L-0.5,-1.6 C-1.45,-2.5 -1.4,-4.60 0,-4.60 C1.4,-4.60 1.45,-2.5 0.5,-1.6 Z"/></g><circle r="0.9"/></g>
<rect x="204.00" y="867.30" width="23.70" height="2.40" fill="#000"/>
<rect x="204.00" y="867.30" width="2.40" height="5.00" fill="#000"/>
<rect x="225.30" y="867.30" width="2.40" height="5.00" fill="#000"/>
<g transform="translate(204.50,861.65)" fill="#000"><g transform="rotate(0)"><path d="M0,0 L-0.5,-1.6 C-1.45,-2.5 -1.4,-4.60 0,-4.60 C1.4,-4.60 1.45,-2.5 0.5,-1.6 Z"/></g><g transform="rotate(72)"><path d="M0,0 L-0.5,-1.6 C-1.45,-2.5 -1.4,-4.60 0,-4.60 C1.4,-4.60 1.45,-2.5 0.5,-1.6 Z"/></g><g transform="rotate(144)"><path d="M0,0 L-0.5,-1.6 C-1.45,-2.5 -1.4,-4.60 0,-4.60 C1.4,-4.60 1.45,-2.5 0.5,-1.6 Z"/></g><g transform="rotate(216)"><path d="M0,0 L-0.5,-1.6 C-1.45,-2.5 -1.4,-4.60 0,-4.60 C1.4,-4.60 1.45,-2.5 0.5,-1.6 Z"/></g><g transform="rotate(288)"><path d="M0,0 L-0.5,-1.6 C-1.45,-2.5 -1.4,-4.60 0,-4.60 C1.4,-4.60 1.45,-2.5 0.5,-1.6 Z"/></g><circle r="0.9"/></g>
<g transform="translate(215.85,861.65)" fill="#000"><g transform="rotate(0)"><path d="M0,0 L-0.5,-1.6 C-1.45,-2.5 -1.4,-4.60 0,-4.60 C1.4,-4.60 1.45,-2.5 0.5,-1.6 Z"/></g><g transform="rotate(72)"><path d="M0,0 L-0.5,-1.6 C-1.45,-2.5 -1.4,-4.60 0,-4.60 C1.4,-4.60 1.45,-2.5 0.5,-1.6 Z"/></g><g transform="rotate(144)"><path d="M0,0 L-0.5,-1.6 C-1.45,-2.5 -1.4,-4.60 0,-4.60 C1.4,-4.60 1.45,-2.5 0.5,-1.6 Z"/></g><g transform="rotate(216)"><path d="M0,0 L-0.5,-1.6 C-1.45,-2.5 -1.4,-4.60 0,-4.60 C1.4,-4.60 1.45,-2.5 0.5,-1.6 Z"/></g><g transform="rotate(288)"><path d="M0,0 L-0.5,-1.6 C-1.45,-2.5 -1.4,-4.60 0,-4.60 C1.4,-4.60 1.45,-2.5 0.5,-1.6 Z"/></g><circle r="0.9"/></g>
<g transform="translate(227.20,861.65)" fill="#000"><g transform="rotate(0)"><path d="M0,0 L-0.5,-1.6 C-1.45,-2.5 -1.4,-4.60 0,-4.60 C1.4,-4.60 1.45,-2.5 0.5,-1.6 Z"/></g><g transform="rotate(72)"><path d="M0,0 L-0.5,-1.6 C-1.45,-2.5 -1.4,-4.60 0,-4.60 C1.4,-4.60 1.45,-2.5 0.5,-1.6 Z"/></g><g transform="rotate(144)"><path d="M0,0 L-0.5,-1.6 C-1.45,-2.5 -1.4,-4.60 0,-4.60 C1.4,-4.60 1.45,-2.5 0.5,-1.6 Z"/></g><g transform="rotate(216)"><path d="M0,0 L-0.5,-1.6 C-1.45,-2.5 -1.4,-4.60 0,-4.60 C1.4,-4.60 1.45,-2.5 0.5,-1.6 Z"/></g><g transform="rotate(288)"><path d="M0,0 L-0.5,-1.6 C-1.45,-2.5 -1.4,-4.60 0,-4.60 C1.4,-4.60 1.45,-2.5 0.5,-1.6 Z"/></g><circle r="0.9"/></g>
<rect x="289.20" y="963.40" width="45.20" height="2.40" fill="#000"/>
<rect x="289.20" y="963.40" width="2.40" height="5.40" fill="#000"/>
<rect x="332.00" y="963.40" width="2.40" height="5.40" fill="#000"/>
<g transform="translate(311.80,954.75)" fill="#000"><g transform="rotate(0)"><path d="M0,0 L-0.5,-1.6 C-1.45,-2.5 -1.4,-4.60 0,-4.60 C1.4,-4.60 1.45,-2.5 0.5,-1.6 Z"/></g><g transform="rotate(72)"><path d="M0,0 L-0.5,-1.6 C-1.45,-2.5 -1.4,-4.60 0,-4.60 C1.4,-4.60 1.45,-2.5 0.5,-1.6 Z"/></g><g transform="rotate(144)"><path d="M0,0 L-0.5,-1.6 C-1.45,-2.5 -1.4,-4.60 0,-4.60 C1.4,-4.60 1.45,-2.5 0.5,-1.6 Z"/></g><g transform="rotate(216)"><path d="M0,0 L-0.5,-1.6 C-1.45,-2.5 -1.4,-4.60 0,-4.60 C1.4,-4.60 1.45,-2.5 0.5,-1.6 Z"/></g><g transform="rotate(288)"><path d="M0,0 L-0.5,-1.6 C-1.45,-2.5 -1.4,-4.60 0,-4.60 C1.4,-4.60 1.45,-2.5 0.5,-1.6 Z"/></g><circle r="0.9"/></g>
<rect x="289.20" y="989.20" width="23.50" height="2.40" fill="#000"/>
<rect x="289.20" y="989.20" width="2.40" height="5.00" fill="#000"/>
<rect x="310.30" y="989.20" width="2.40" height="5.00" fill="#000"/>
<g transform="translate(301.20,982.65)" fill="#000"><g transform="rotate(0)"><path d="M0,0 L-0.5,-1.6 C-1.45,-2.5 -1.4,-4.60 0,-4.60 C1.4,-4.60 1.45,-2.5 0.5,-1.6 Z"/></g><g transform="rotate(72)"><path d="M0,0 L-0.5,-1.6 C-1.45,-2.5 -1.4,-4.60 0,-4.60 C1.4,-4.60 1.45,-2.5 0.5,-1.6 Z"/></g><g transform="rotate(144)"><path d="M0,0 L-0.5,-1.6 C-1.45,-2.5 -1.4,-4.60 0,-4.60 C1.4,-4.60 1.45,-2.5 0.5,-1.6 Z"/></g><g transform="rotate(216)"><path d="M0,0 L-0.5,-1.6 C-1.45,-2.5 -1.4,-4.60 0,-4.60 C1.4,-4.60 1.45,-2.5 0.5,-1.6 Z"/></g><g transform="rotate(288)"><path d="M0,0 L-0.5,-1.6 C-1.45,-2.5 -1.4,-4.60 0,-4.60 C1.4,-4.60 1.45,-2.5 0.5,-1.6 Z"/></g><circle r="0.9"/></g>
<rect x="458.50" y="1023.10" width="22.70" height="2.40" fill="#000"/>
<rect x="458.50" y="1023.10" width="2.40" height="6.10" fill="#000"/>
<rect x="478.80" y="1023.10" width="2.40" height="6.10" fill="#000"/>
<g transform="translate(469.70,1017.65)" fill="#000"><g transform="rotate(0)"><path d="M0,0 L-0.5,-1.6 C-1.45,-2.5 -1.4,-4.60 0,-4.60 C1.4,-4.60 1.45,-2.5 0.5,-1.6 Z"/></g><g transform="rotate(72)"><path d="M0,0 L-0.5,-1.6 C-1.45,-2.5 -1.4,-4.60 0,-4.60 C1.4,-4.60 1.45,-2.5 0.5,-1.6 Z"/></g><g transform="rotate(144)"><path d="M0,0 L-0.5,-1.6 C-1.45,-2.5 -1.4,-4.60 0,-4.60 C1.4,-4.60 1.45,-2.5 0.5,-1.6 Z"/></g><g transform="rotate(216)"><path d="M0,0 L-0.5,-1.6 C-1.45,-2.5 -1.4,-4.60 0,-4.60 C1.4,-4.60 1.45,-2.5 0.5,-1.6 Z"/></g><g transform="rotate(288)"><path d="M0,0 L-0.5,-1.6 C-1.45,-2.5 -1.4,-4.60 0,-4.60 C1.4,-4.60 1.45,-2.5 0.5,-1.6 Z"/></g><circle r="0.9"/></g>
<rect x="362.10" y="716.40" width="34.40" height="17.60" fill="#000" stroke="#000" stroke-width="2.6"/>
<rect x="362.10" y="742.00" width="34.40" height="16.90" fill="#878787" stroke="#000" stroke-width="2.6"/>
<rect x="362.10" y="767.50" width="34.40" height="16.70" fill="#b9b9b9" stroke="#000" stroke-width="2.6"/>
</svg></body></html>
